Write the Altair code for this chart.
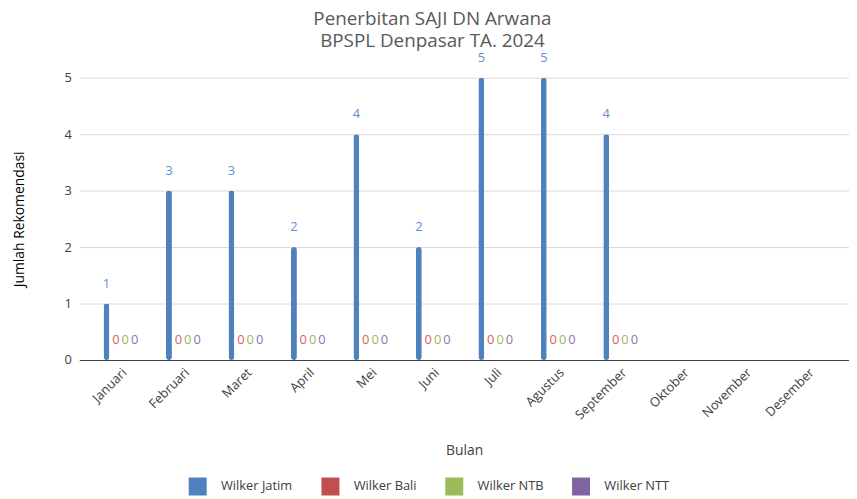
import altair as alt
import pandas as pd

months = ["Januari", "Februari", "Maret", "April", "Mei", "Juni", "Juli",
          "Agustus", "September", "Oktober", "November", "Desember"]
series = ["Wilker Jatim", "Wilker Bali", "Wilker NTB", "Wilker NTT"]
colors = ["#4f81bd", "#c0504d", "#9bbb59", "#8064a2"]
label_colors = ["#5b8fd6", "#d9605c", "#9bbb59", "#8f72b4"]

jatim = [1, 3, 3, 2, 4, 2, 5, 5, 4, None, None, None]
bali = [0, 0, 0, 0, 0, 0, 0, 0, 0, None, None, None]
ntb = [0, 0, 0, 0, 0, 0, 0, 0, 0, None, None, None]
ntt = [0, 0, 0, 0, 0, 0, 0, 0, 0, None, None, None]

rows = []
for name, vals in zip(series, [jatim, bali, ntb, ntt]):
    for m, v in zip(months, vals):
        if v is not None:
            rows.append({"Bulan": m, "Seri": name, "Nilai": v})
df = pd.DataFrame(rows)

FONT = "Open Sans"

x_enc = alt.X("Bulan:N", sort=months, scale=alt.Scale(domain=months, paddingInner=0.4, paddingOuter=0.36),
              axis=alt.Axis(title="Bulan", labelAngle=-45, labelFontSize=13, labelColor="#404040",
                            titleFontSize=14, titleColor="#404040", titleFontWeight="normal",
                            titlePadding=22, ticks=False, domainColor="#404040", domainWidth=1.2,
                            labelPadding=6, grid=False))
xo = alt.XOffset("Seri:N", sort=series, scale=alt.Scale(domain=series, paddingInner=0, paddingOuter=0))
y_enc = alt.Y("Nilai:Q", scale=alt.Scale(domain=[0, 5], nice=False),
              axis=alt.Axis(title="Jumlah Rekomendasi", values=[0, 1, 2, 3, 4, 5], labelOverlap=False,
                            format="d",
                            labelFontSize=13, labelColor="#404040", titleFontSize=14,
                            titleColor="#000000", titleFontWeight="normal", titlePadding=38,
                            domain=False, ticks=False, gridColor="#d9d9d9", labelPadding=8))

bars = alt.Chart(df).mark_bar(size=6, cornerRadius=3).encode(
    x=x_enc, xOffset=xo, y=y_enc,
    color=alt.Color("Seri:N", sort=series, scale=alt.Scale(domain=series, range=colors),
                    legend=alt.Legend(title=None, orient="none", direction="horizontal",
                                      legendX=110, legendY=403, symbolType="square",
                                      symbolSize=330, symbolStrokeWidth=0, labelFontSize=13,
                                      labelColor="#404040", labelOffset=14, columnPadding=28,
                                      labelFont=FONT)),
)

texts = alt.Chart(df).mark_text(dy=-20, fontSize=13, font=FONT).encode(
    x=alt.X("Bulan:N", sort=months), xOffset=alt.XOffset("Seri:N", sort=series), y="Nilai:Q",
    text="Nilai:Q",
    color=alt.Color("Seri:N", sort=series, scale=alt.Scale(domain=series, range=label_colors), legend=None),
)

chart = alt.layer(bars, texts).resolve_scale(color="independent").properties(
    width=777, height=285,
    padding={"left": 72, "top": 68, "right": 0, "bottom": 142},
    autosize=alt.AutoSizeParams(type="none"),
    title=alt.Title(["Penerbitan SAJI DN Arwana", "BPSPL Denpasar TA. 2024"], fontSize=19,
                    font=FONT, fontWeight="normal", color="#595959", anchor="middle",
                    dx=-32, dy=-1, offset=0, lineHeight=22),
).configure_view(stroke=None).configure_axis(labelFont=FONT, titleFont=FONT)

chart.save("out.html", embed_options={"renderer": "svg", "actions": False})
